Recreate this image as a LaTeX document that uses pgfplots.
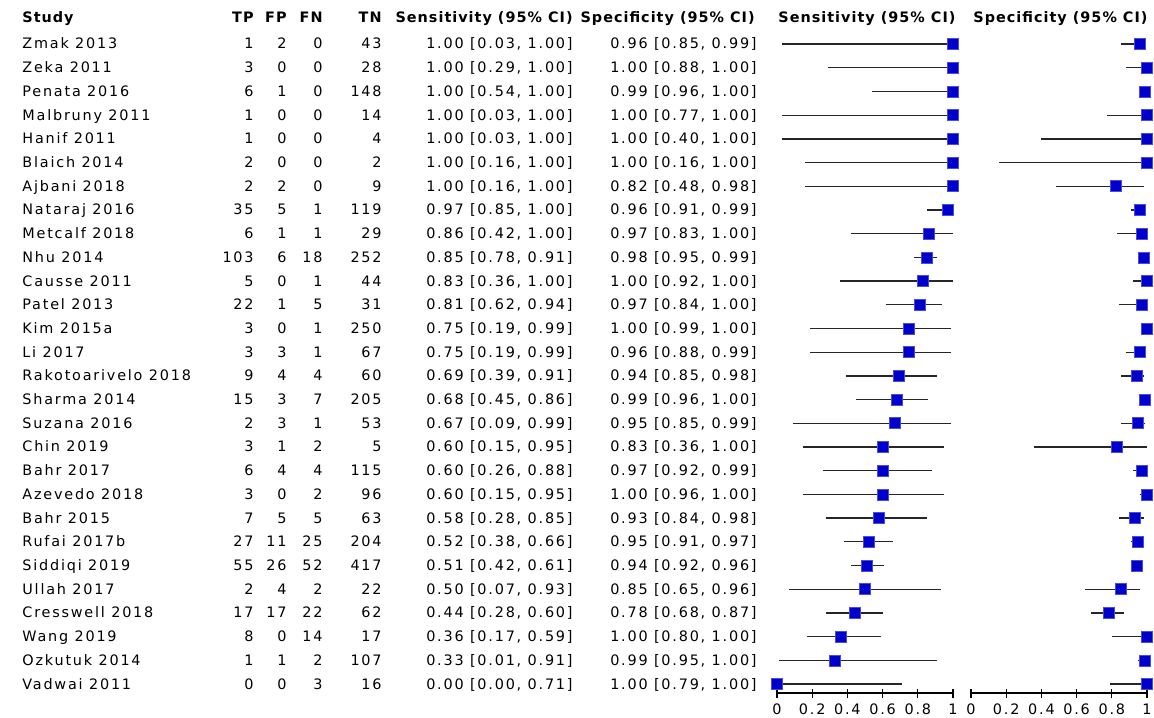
\documentclass[border=0pt]{standalone}
\usepackage{pgfplots}
\pgfplotsset{compat=1.18}
\usepackage{pgfplotstable}
\usepackage{fontspec}
\setmainfont{DejaVu Sans}[LetterSpace=12.5, BoldFeatures={LetterSpace=7}]
\definecolor{boxblue}{RGB}{0,0,204}

\pgfplotstableread{
row se slo shi sp splo sphi
1 1.00 0.03 1.00 0.96 0.85 0.99
2 1.00 0.29 1.00 1.00 0.88 1.00
3 1.00 0.54 1.00 0.99 0.96 1.00
4 1.00 0.03 1.00 1.00 0.77 1.00
5 1.00 0.03 1.00 1.00 0.40 1.00
6 1.00 0.16 1.00 1.00 0.16 1.00
7 1.00 0.16 1.00 0.82 0.48 0.98
8 0.97 0.85 1.00 0.96 0.91 0.99
9 0.86 0.42 1.00 0.97 0.83 1.00
10 0.85 0.78 0.91 0.98 0.95 0.99
11 0.83 0.36 1.00 1.00 0.92 1.00
12 0.81 0.62 0.94 0.97 0.84 1.00
13 0.75 0.19 0.99 1.00 0.99 1.00
14 0.75 0.19 0.99 0.96 0.88 0.99
15 0.69 0.39 0.91 0.94 0.85 0.98
16 0.68 0.45 0.86 0.99 0.96 1.00
17 0.67 0.09 0.99 0.95 0.85 0.99
18 0.60 0.15 0.95 0.83 0.36 1.00
19 0.60 0.26 0.88 0.97 0.92 0.99
20 0.60 0.15 0.95 1.00 0.96 1.00
21 0.58 0.28 0.85 0.93 0.84 0.98
22 0.52 0.38 0.66 0.95 0.91 0.97
23 0.51 0.42 0.61 0.94 0.92 0.96
24 0.50 0.07 0.93 0.85 0.65 0.96
25 0.44 0.28 0.60 0.78 0.68 0.87
26 0.36 0.17 0.59 1.00 0.80 1.00
27 0.33 0.01 0.91 0.99 0.95 1.00
28 0.00 0.00 0.71 1.00 0.79 1.00
}\data

\pgfplotsset{
  forest/.style={
    scale only axis, width=88pt, height=330.4pt,
    anchor=south west,
    xmin=0, xmax=1, ymin=0.5, ymax=28.38, y dir=reverse,
    clip=false,
    axis x line*=bottom, axis y line=none,
    x axis line style={-, line width=0.6pt},
    xtick={0,0.2,0.4,0.6,0.8,1},
    xticklabels={0,0.2,0.4,0.6,0.8,1},
    ytick=\empty,
    tick align=center, major tick length=4.5pt,
    every tick/.style={black, line width=0.6pt},
    /pgf/number format/assume math mode=true,
    xticklabel style={font=\fontsize{7.2pt}{8.6pt}\selectfont, inner sep=1pt, yshift=-2pt},
  },
  ci/.style={only marks, mark=square*, mark size=2.75pt,
    mark options={fill=boxblue, draw=boxblue!70!white, line width=0.3pt},
    error bars/.cd, x dir=both, x explicit,
    error bar style={black!85, line width=0.65pt}, error mark=none},
}

\begin{document}
\begin{tikzpicture}[x=0.5pt,y=-0.5pt, font=\fontsize{7.2pt}{8.6pt}\selectfont]
\useasboundingbox (0,0) rectangle (1154,717);
% headers
\begin{scope}[font=\fontsize{7.2pt}{8.6pt}\selectfont\bfseries]
\node[anchor=base west,inner sep=0] at (22,23) {Study};
\node[anchor=base east,inner sep=0] at (254,23) {TP};
\node[anchor=base east,inner sep=0] at (287,23) {FP};
\node[anchor=base east,inner sep=0] at (323,23) {FN};
\node[anchor=base east,inner sep=0] at (382,23) {TN};
\node[anchor=base east,inner sep=0] at (573,23) {Sensitivity (95\% CI)};
\node[anchor=base east,inner sep=0] at (755,23) {Specificity (95\% CI)};
\node[anchor=base west,inner sep=0] at (778,23) {Sensitivity (95\% CI)};
\node[anchor=base west,inner sep=0] at (973,23) {Specificity (95\% CI)};
\end{scope}
\foreach \r/\name/\tp/\fp/\fn/\tn/\se/\slo/\shi/\sp/\splo/\sphi in {
1/Zmak 2013/1/2/0/43/1.00/0.03/1.00/0.96/0.85/0.99,
2/Zeka 2011/3/0/0/28/1.00/0.29/1.00/1.00/0.88/1.00,
3/Penata 2016/6/1/0/148/1.00/0.54/1.00/0.99/0.96/1.00,
4/Malbruny 2011/1/0/0/14/1.00/0.03/1.00/1.00/0.77/1.00,
5/Hanif 2011/1/0/0/4/1.00/0.03/1.00/1.00/0.40/1.00,
6/Blaich 2014/2/0/0/2/1.00/0.16/1.00/1.00/0.16/1.00,
7/Ajbani 2018/2/2/0/9/1.00/0.16/1.00/0.82/0.48/0.98,
8/Nataraj 2016/35/5/1/119/0.97/0.85/1.00/0.96/0.91/0.99,
9/Metcalf 2018/6/1/1/29/0.86/0.42/1.00/0.97/0.83/1.00,
10/Nhu 2014/103/6/18/252/0.85/0.78/0.91/0.98/0.95/0.99,
11/Causse 2011/5/0/1/44/0.83/0.36/1.00/1.00/0.92/1.00,
12/Patel 2013/22/1/5/31/0.81/0.62/0.94/0.97/0.84/1.00,
13/Kim 2015a/3/0/1/250/0.75/0.19/0.99/1.00/0.99/1.00,
14/Li 2017/3/3/1/67/0.75/0.19/0.99/0.96/0.88/0.99,
15/Rakotoarivelo 2018/9/4/4/60/0.69/0.39/0.91/0.94/0.85/0.98,
16/Sharma 2014/15/3/7/205/0.68/0.45/0.86/0.99/0.96/1.00,
17/Suzana 2016/2/3/1/53/0.67/0.09/0.99/0.95/0.85/0.99,
18/Chin 2019/3/1/2/5/0.60/0.15/0.95/0.83/0.36/1.00,
19/Bahr 2017/6/4/4/115/0.60/0.26/0.88/0.97/0.92/0.99,
20/Azevedo 2018/3/0/2/96/0.60/0.15/0.95/1.00/0.96/1.00,
21/Bahr 2015/7/5/5/63/0.58/0.28/0.85/0.93/0.84/0.98,
22/Rufai 2017b/27/11/25/204/0.52/0.38/0.66/0.95/0.91/0.97,
23/Siddiqi 2019/55/26/52/417/0.51/0.42/0.61/0.94/0.92/0.96,
24/Ullah 2017/2/4/2/22/0.50/0.07/0.93/0.85/0.65/0.96,
25/Cresswell 2018/17/17/22/62/0.44/0.28/0.60/0.78/0.68/0.87,
26/Wang 2019/8/0/14/17/0.36/0.17/0.59/1.00/0.80/1.00,
27/Ozkutuk 2014/1/1/2/107/0.33/0.01/0.91/0.99/0.95/1.00,
28/Vadwai 2011/0/0/3/16/0.00/0.00/0.71/1.00/0.79/1.00}{
  \pgfmathsetmacro\yy{44+(\r-1)*23.7037+5}
  \node[anchor=base west,inner sep=0] at (22,\yy) {\name};
  \node[anchor=base east,inner sep=0] at (254,\yy) {\tp};
  \node[anchor=base east,inner sep=0] at (287,\yy) {\fp};
  \node[anchor=base east,inner sep=0] at (323,\yy) {\fn};
  \node[anchor=base east,inner sep=0] at (382,\yy) {\tn};
  \node[anchor=base east,inner sep=0] at (573,\yy) {\se{} [\slo, \shi]};
  \node[anchor=base east,inner sep=0] at (757,\yy) {\sp{} [\splo, \sphi]};
}
\begin{axis}[forest, at={(388.5pt,-346.5pt)}]
\addplot+[ci] table[x=se, y=row,
  x error minus expr=\thisrow{se}-\thisrow{slo},
  x error plus expr=\thisrow{shi}-\thisrow{se}] {\data};
\end{axis}
\begin{axis}[forest, at={(485.5pt,-346.5pt)}]
\addplot+[ci] table[x=sp, y=row,
  x error minus expr=\thisrow{sp}-\thisrow{splo},
  x error plus expr=\thisrow{sphi}-\thisrow{sp}] {\data};
\end{axis}
\end{tikzpicture}
\end{document}
